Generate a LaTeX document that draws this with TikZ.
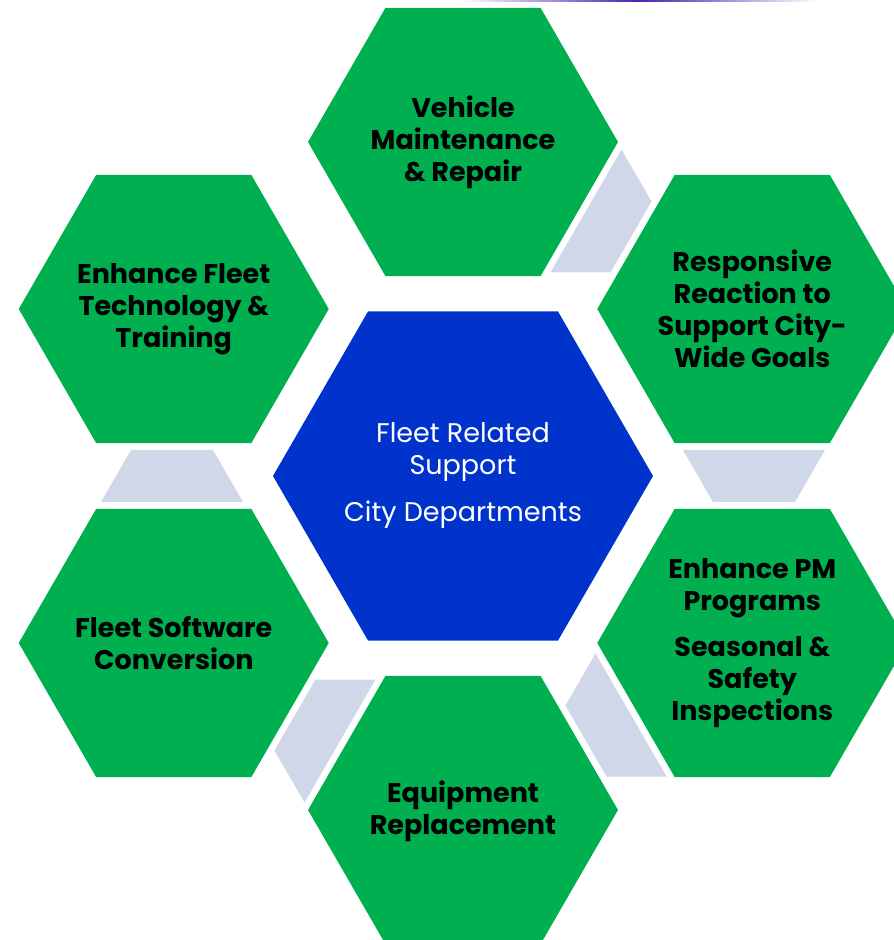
\documentclass[tikz,border=0pt]{standalone}
\usepackage{fontspec}
\setmainfont{Poppins}
\usetikzlibrary{shapes.geometric}
\definecolor{hexgreen}{HTML}{00B050}
\definecolor{hexblue}{HTML}{0033CC}
\definecolor{connfill}{HTML}{D0D7E8}
\definecolor{topline}{HTML}{4A22B0}
\begin{document}
\begin{tikzpicture}[x=1pt,y=1pt,
  outerhex/.style={regular polygon, regular polygon sides=6,
    minimum size=310pt, inner sep=0pt, fill=hexgreen, draw=none},
  centerhex/.style={regular polygon, regular polygon sides=6,
    minimum size=380pt, inner sep=0pt, fill=hexblue, draw=none},
  hextext/.style={align=center, text=black, inner sep=0pt,
    font=\fontsize{27}{32}\selectfont\bfseries},
  centertext/.style={align=center, text=white, inner sep=0pt,
    font=\fontsize{27}{32}\selectfont},
  conn/.style={fill=connfill, draw=none}]
\useasboundingbox (0,0) rectangle (894,940);
\fill[white] (0,0) rectangle (894,940);
% faint line at the top edge
\shade[left color=white, right color=white, middle color=topline] (460,938) rectangle (817,940);

\coordinate (C) at (463,464);
\path (C) ++(90:334) coordinate (p1);
\path (C) ++(30:334) coordinate (p2);
\path (C) ++(-30:334) coordinate (p3);
\path (C) ++(-90:334) coordinate (p4);
\path (C) ++(-150:334) coordinate (p5);
\path (C) ++(150:334) coordinate (p6);

% connectors
\foreach \a in {60,0,-60,-120,180} {
  \fill[conn, shift={(C)}, rotate=\a] (220,26) -- (362,26) -- (332,-26) -- (250,-26) -- cycle;
}

% hexagons
\node[centerhex] (h0) at (C) {};
\node[outerhex] (h1) at (p1) {};
\node[outerhex] (h2) at (p2) {};
\node[outerhex] (h3) at (p3) {};
\node[outerhex] (h4) at (p4) {};
\node[outerhex] (h5) at (p5) {};
\node[outerhex] (h6) at (p6) {};

% texts
\node[centertext] (t0) at (h0.center) {Fleet Related\\Support\\[15pt]City Departments};
\node[hextext] (t1) at (h1.center) {Vehicle\\Maintenance\\\& Repair};
\node[hextext] (t2) at (h2.center) {Responsive\\Reaction to\\Support City-\\Wide Goals};
\node[hextext] (t3) at (h3.center) {Enhance PM\\Programs\\[14pt]Seasonal \&\\Safety\\Inspections};
\node[hextext] (t4) at ([yshift=-1pt]h4.center) {Equipment\\Replacement};
\node[hextext] (t5) at (h5.center) {Fleet Software\\Conversion};
\node[hextext] (t6) at (h6.center) {Enhance Fleet\\Technology \&\\Training};
\end{tikzpicture}
\end{document}
